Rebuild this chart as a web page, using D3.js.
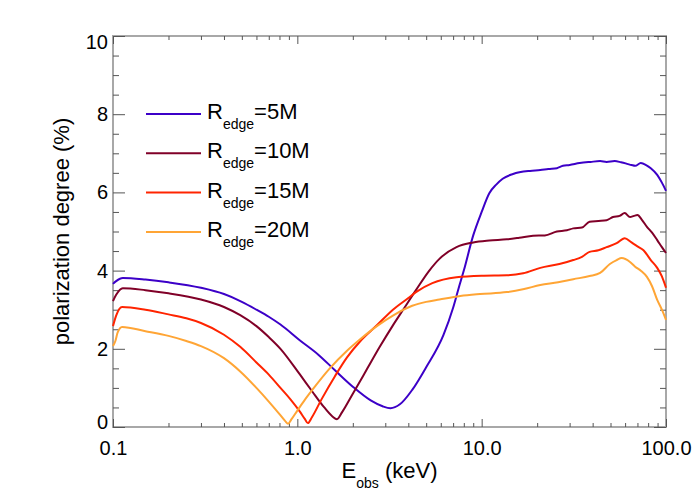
<!DOCTYPE html>
<html>
<head>
<meta charset="utf-8">
<script src="https://cdn.jsdelivr.net/npm/d3@7"></script>
<style>
  body { margin: 0; background: #fff; }
  text { font-family: "Liberation Sans", Arial, sans-serif; fill: #000; }
</style>
</head>
<body>
<div id="chart"></div>
<script>
// chart size
var svgWidth = 700;
var svgHeight = 500;

var margin = { top: 36, right: 34, bottom: 73, left: 113 };

var width = svgWidth - margin.left - margin.right;
var height = svgHeight - margin.top - margin.bottom;

// data: energy (keV) and polarization degree (%)
var e5 = [0.1, 0.104, 0.113, 0.15, 0.2, 0.3, 0.4, 0.5, 0.6, 0.7, 0.81, 1.03, 1.3, 1.6, 2.0, 2.5, 2.9, 3.2, 3.6, 4.2, 5.0, 6.2, 7.0, 7.5, 8.0, 9.0, 10, 11, 12, 13, 14.8, 18.3, 20.8, 23, 25.6, 27.6, 30, 34, 39, 43.9, 47.6, 52.7, 57, 61.6, 65, 68, 73, 78, 82.7, 89.6, 95, 100];
var p5 = [3.66, 3.73, 3.81, 3.77, 3.7, 3.56, 3.4, 3.2, 3.0, 2.82, 2.62, 2.22, 1.85, 1.45, 1.03, 0.68, 0.53, 0.48, 0.58, 0.95, 1.53, 2.35, 3.05, 3.55, 4.0, 4.9, 5.5, 5.98, 6.2, 6.35, 6.47, 6.55, 6.57, 6.6, 6.62, 6.68, 6.7, 6.75, 6.78, 6.8, 6.78, 6.8, 6.77, 6.73, 6.7, 6.68, 6.75, 6.7, 6.62, 6.45, 6.25, 6.04];

var e10 = [0.1, 0.104, 0.113, 0.15, 0.2, 0.3, 0.4, 0.49, 0.6, 0.7, 0.81, 1.03, 1.2, 1.4, 1.55, 1.64, 1.75, 2.0, 2.4, 2.8, 3.3, 3.75, 4.4, 5.2, 5.9, 7.3, 9.0, 11, 13.7, 16, 19, 22, 25.6, 29, 31.4, 35, 38.5, 43, 47.6, 51.6, 56, 59.7, 63.8, 67, 70, 74, 78.8, 84, 89.6, 95, 100];
var p10 = [3.22, 3.38, 3.55, 3.5, 3.42, 3.26, 3.07, 2.86, 2.58, 2.3, 2.0, 1.35, 0.92, 0.5, 0.27, 0.2, 0.38, 0.85, 1.5, 2.05, 2.6, 3.0, 3.5, 4.0, 4.3, 4.6, 4.72, 4.77, 4.8, 4.84, 4.89, 4.9, 5.0, 5.03, 5.08, 5.1, 5.25, 5.27, 5.29, 5.37, 5.4, 5.47, 5.37, 5.4, 5.42, 5.3, 5.12, 4.97, 4.78, 4.6, 4.45];

var e15 = [0.1, 0.104, 0.112, 0.15, 0.2, 0.25, 0.3, 0.4, 0.49, 0.6, 0.7, 0.81, 0.92, 1.03, 1.1, 1.14, 1.2, 1.35, 1.6, 1.86, 2.2, 2.7, 3.3, 4.0, 4.4, 5.4, 7.3, 10, 13.7, 16.8, 20.8, 26.4, 31.4, 35, 38.5, 43, 47.6, 54, 59.7, 65, 70, 75.5, 82.7, 89.6, 95, 100];
var p15 = [2.58, 2.85, 3.07, 3.0, 2.88, 2.78, 2.66, 2.36, 2.05, 1.65, 1.34, 1.0, 0.7, 0.4, 0.2, 0.1, 0.25, 0.7, 1.3, 1.78, 2.2, 2.6, 3.0, 3.3, 3.45, 3.68, 3.83, 3.87, 3.88, 3.93, 4.07, 4.17, 4.27, 4.35, 4.48, 4.52, 4.6, 4.7, 4.83, 4.72, 4.62, 4.52, 4.27, 4.07, 3.85, 3.56];

var e20 = [0.1, 0.103, 0.106, 0.112, 0.15, 0.2, 0.25, 0.3, 0.4, 0.49, 0.6, 0.7, 0.8, 0.86, 0.89, 0.93, 1.0, 1.1, 1.22, 1.5, 1.86, 2.2, 2.7, 3.3, 4.2, 5.0, 5.9, 7.66, 9.8, 13.7, 17, 20.8, 26, 31.4, 38.5, 43.9, 49.6, 54, 57.5, 63.8, 68, 73.3, 78.8, 84, 89.6, 95, 100];
var p20 = [2.07, 2.2, 2.42, 2.56, 2.45, 2.33, 2.2, 2.07, 1.76, 1.42, 1.0, 0.65, 0.33, 0.15, 0.08, 0.2, 0.42, 0.7, 0.98, 1.5, 1.95, 2.25, 2.58, 2.85, 3.1, 3.2, 3.26, 3.35, 3.4, 3.45, 3.53, 3.63, 3.7, 3.78, 3.86, 3.94, 4.17, 4.27, 4.32, 4.22, 4.1, 3.99, 3.84, 3.6, 3.25, 3.0, 2.74];

var seriesNames = ["5M", "10M", "15M", "20M"];
var seriesColors = ["#3c00c8", "#800028", "#ff2400", "#ffa535"];

var xMajor = [0.1, 1, 10, 100];
var xMajorLabels = ["0.1", "1.0", "10.0", "100.0"];
var yMajor = [0, 2, 4, 6, 8, 10];

var series = [[e5, p5], [e10, p10], [e15, p15], [e20, p20]];

var svg = d3.select("#chart")
    .append("svg")
    .attr("width", svgWidth)
    .attr("height", svgHeight);

var chartGroup = svg.append("g")
    .attr("transform", `translate(${margin.left}, ${margin.top})`);

var xScale = d3.scaleLog().domain([0.1, 100]).range([0, width]);
var yScale = d3.scaleLinear().domain([0, 10]).range([height, 0]);

// minor tick values
var xMinor = [];
[0.1, 1, 10].forEach(function(dec) {
    for (var k = 2; k <= 9; k++) xMinor.push(dec * k);
});
var yMinor = d3.range(0, 10.01, 0.5).filter(d => d % 2 !== 0);

// frame
chartGroup.append("rect")
    .attr("width", width)
    .attr("height", height)
    .attr("fill", "none")
    .attr("stroke", "#a8a8a8")
    .attr("stroke-width", 2);

function styleAxis(g) {
    g.select(".domain").remove();
    g.selectAll("line").attr("stroke", "#555").attr("stroke-width", 1);
    g.selectAll("text").attr("font-size", "20px").attr("font-family", "Liberation Sans, Arial, sans-serif").attr("fill", "#000");
}

// bottom axis
chartGroup.append("g")
    .attr("transform", `translate(0, ${height})`)
    .call(d3.axisBottom(xScale).tickValues(xMinor).tickSize(-4).tickFormat(""))
    .call(styleAxis);
chartGroup.append("g")
    .attr("transform", `translate(0, ${height})`)
    .call(d3.axisBottom(xScale).tickValues(xMajor).tickSize(-8).tickPadding(14)
        .tickFormat((d, i) => xMajorLabels[i]))
    .call(styleAxis);

// top axis
chartGroup.append("g")
    .call(d3.axisTop(xScale).tickValues(xMinor).tickSize(-4).tickFormat(""))
    .call(styleAxis);
chartGroup.append("g")
    .call(d3.axisTop(xScale).tickValues(xMajor).tickSize(-8).tickFormat(""))
    .call(styleAxis);

// left axis
chartGroup.append("g")
    .call(d3.axisLeft(yScale).tickValues(yMinor).tickSize(-6).tickFormat(""))
    .call(styleAxis);
var leftAxis = chartGroup.append("g")
    .call(d3.axisLeft(yScale).tickValues(yMajor).tickSize(-12).tickPadding(5).tickFormat(d3.format("d")))
    .call(styleAxis);
// end labels sit a little inside the frame
leftAxis.selectAll("text")
    .attr("dy", d => d === 10 ? "0.62em" : d === 0 ? "0.05em" : "0.32em");

// right axis
chartGroup.append("g")
    .attr("transform", `translate(${width}, 0)`)
    .call(d3.axisRight(yScale).tickValues(yMinor).tickSize(-6).tickFormat(""))
    .call(styleAxis);
chartGroup.append("g")
    .attr("transform", `translate(${width}, 0)`)
    .call(d3.axisRight(yScale).tickValues(yMajor).tickSize(-12).tickFormat(""))
    .call(styleAxis);

// curves
var line = d3.line()
    .x(d => xScale(d[0]))
    .y(d => yScale(d[1]))
    .curve(d3.curveMonotoneX);

series.forEach(function(s, i) {
    var pts = s[0].map((e, j) => [e, s[1][j]]);
    chartGroup.append("path")
        .datum(pts)
        .attr("fill", "none")
        .attr("stroke", seriesColors[i])
        .attr("stroke-width", 2)
        .attr("stroke-linejoin", "round")
        .attr("d", line);
});

// legend
var legend = svg.append("g");
seriesNames.forEach(function(name, i) {
    var ly = 114 + i * 39.3;
    legend.append("line")
        .attr("x1", 146).attr("x2", 201)
        .attr("y1", ly).attr("y2", ly)
        .attr("stroke", seriesColors[i])
        .attr("stroke-width", 2);
    var t = legend.append("text")
        .attr("x", 207)
        .attr("y", ly + 5)
        .attr("font-size", "22px");
    t.append("tspan").text("R");
    t.append("tspan").attr("font-size", "14px").attr("dy", 10).text("edge");
    t.append("tspan").attr("dy", -10).text("=" + name);
});

// x axis title
var xTitle = svg.append("text")
    .attr("x", margin.left + width / 2)
    .attr("y", 478)
    .attr("text-anchor", "middle")
    .attr("font-size", "22px");
xTitle.append("tspan").text("E");
xTitle.append("tspan").attr("font-size", "14px").attr("dy", 10).text("obs");
xTitle.append("tspan").attr("dy", -10).text(" (keV)");

// y axis title
svg.append("text")
    .attr("transform", `translate(69, ${margin.top + height / 2}) rotate(-90)`)
    .attr("text-anchor", "middle")
    .attr("font-size", "22px")
    .text("polarization degree (%)");
</script>
</body>
</html>
